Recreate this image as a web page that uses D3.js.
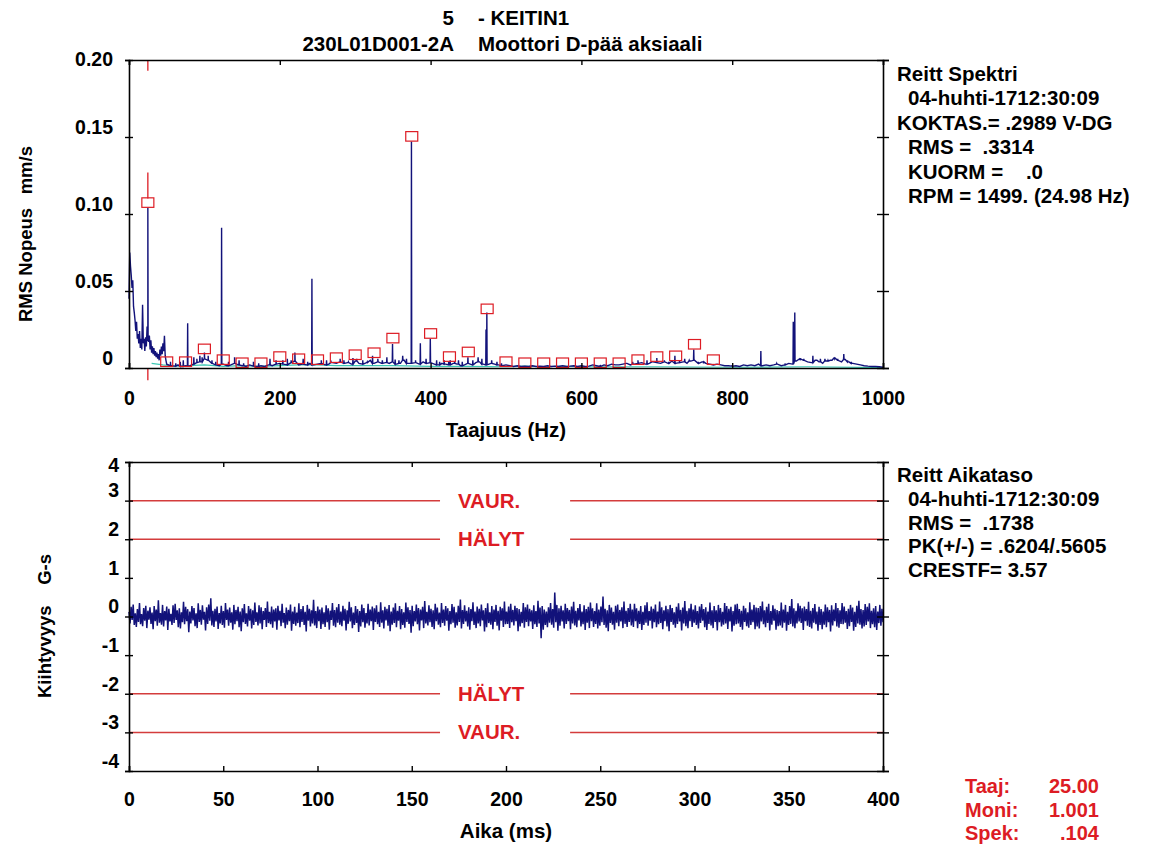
<!DOCTYPE html>
<html><head><meta charset="utf-8">
<script src="https://cdn.jsdelivr.net/npm/d3@7"></script>
<style>
html,body{margin:0;padding:0;background:#fff;}
text{font-family:"Liberation Sans",Arial,sans-serif;font-weight:bold;white-space:pre;}
</style></head>
<body>
<script>
// ---------------- DATA ----------------
const titleLine1 = ["5", "- KEITIN1"];
const titleLine2 = ["230L01D001-2A", "Moottori D-pää aksiaali"];

// spectrum, 0..49 Hz at 1 Hz (RMS mm/s)
const specLowHz = [0.045,0.075,0.066,0.060,0.052,0.057,0.040,0.036,0.031,0.024,
  0.030,0.019,0.022,0.016,0.024,0.013,0.019,0.012,0.041,0.016,
  0.019,0.011,0.020,0.014,0.027,0.018,0.017,0.021,0.012,0.018,
  0.010,0.014,0.009,0.013,0.008,0.011,0.007,0.010,0.006,0.009,
  0.005,0.012,0.008,0.014,0.009,0.016,0.011,0.021,0.008,0.005];
// spectrum floor, 50..1000 Hz at 5 Hz, in thousandths
const specFloor = [2.5,1.5,1.2,2.0,1.0,1.5,1.2,2.5,3.5,4.0,
  6.0,5.0,3.0,2.0,1.5,2.5,1.5,2.0,3.0,2.0,
  1.5,1.0,2.0,1.2,1.0,1.5,1.0,2.0,1.5,2.5,
  3.0,2.5,2.0,3.5,4.5,2.0,2.5,2.0,3.0,2.0,
  2.5,3.0,2.0,2.5,3.5,3.0,4.0,3.0,3.5,2.5,
  4.5,3.0,2.5,3.5,5.0,3.0,4.0,3.0,3.5,3.0,
  4.0,2.5,3.0,5.0,3.0,3.0,3.5,2.5,4.0,3.0,
  3.5,2.5,2.0,3.0,2.5,2.0,3.0,2.5,1.5,2.0,
  3.0,2.0,3.5,4.0,2.5,2.0,3.0,2.5,2.0,1.5,
  2.0,1.5,1.0,1.5,1.0,1.2,1.0,1.5,1.0,1.2,
  1.0,1.5,1.0,1.2,1.0,1.5,1.0,1.2,1.5,1.0,
  1.5,1.0,1.2,2.0,1.5,1.0,2.0,1.5,2.5,2.0,
  2.0,2.5,3.0,2.0,2.5,3.0,3.5,2.5,3.0,4.0,
  3.5,3.0,4.0,3.0,4.5,3.0,3.5,4.0,3.0,4.5,
  5.0,3.0,4.0,3.0,2.5,2.0,2.5,2.0,1.5,1.5,
  1.2,1.5,1.0,2.0,1.5,2.0,1.5,2.5,1.5,2.0,
  1.5,2.0,2.5,1.5,2.0,3.0,2.5,4.5,6.0,5.0,
  4.0,3.5,5.0,4.0,3.0,4.5,5.0,6.5,5.0,4.0,
  5.5,4.0,3.0,2.5,2.0,1.5,1.2,1.0,1.0,0.8,
  0.5];
// discrete spectral lines [Hz, amplitude]
const specPeaks = [[25,0.104],[77.8,0.029],[86,0.007],[94,0.008],[100,0.010],[105,0.008],
  [122.8,0.091],[140,0.007],[187,0.006],[204,0.005],[220,0.010],[231,0.006],[242.6,0.058],
  [262,0.005],[280,0.006],[297,0.0065],[302,0.006],[323,0.008],[342,0.007],[349.5,0.0156],
  [353,0.0055],[363,0.008],[374.6,0.147],[386.4,0.016],[399.6,0.019],[408,0.005],[412,0.004],
  [424,0.004],[426,0.005],[442,0.004],[449.5,0.007],[463,0.007],[473.5,0.025],[474.6,0.036],
  [488,0.004],[625,0.002],[675,0.005],[687,0.005],[700,0.0065],[724,0.008],[737,0.006],
  [749,0.012],[755,0.004],[800,0.002],[838,0.011],[859,0.003],[881,0.030],[883,0.036],
  [907,0.008],[923,0.006],[927,0.005],[940,0.006],[948,0.009],
  [55,0.004],[62,0.003],[68,0.004],[72,0.005],[90,0.006],[97,0.007],[110,0.005],[115,0.004],
  [132,0.004],[146,0.005],[152,0.003],[165,0.004],[172,0.003],[195,0.005],[210,0.006],[215,0.005],
  [237,0.004],[255,0.005],[268,0.004],[285,0.005],[291,0.004],[310,0.005],[316,0.004],[330,0.006],
  [336,0.005],[358,0.005],[368,0.006],[380,0.005],[394,0.006],[418,0.005],[432,0.004],[437,0.005],
  [456,0.005],[468,0.006],[481,0.005],[494,0.003],[660,0.003],[668,0.004],[694,0.004],[710,0.005],
  [716,0.004],[730,0.005],[743,0.005],[762,0.003],[870,0.003],[890,0.005],[895,0.006],[912,0.005],
  [917,0.006],[932,0.005],[936,0.006],[953,0.005],[958,0.004]];
// reference (cyan) spectrum
const specRef = [[30,0.003],[45,0.002],[60,0.0012],[80,0.0015],[100,0.002],[125,0.001],[150,0.0015],
  [175,0.001],[200,0.0015],[225,0.002],[250,0.002],[275,0.0015],[300,0.0015],[350,0.0015],[400,0.001],
  [450,0.001],[500,0.0008],[525,0.0012],[550,0.0008],[575,0.0012],[600,0.0008],[650,0.0008],[700,0.0008],
  [800,0.0005],[900,0.0008],[1000,0.0003]];
// harmonic markers (1x = 25 Hz) amplitudes for orders 1..31
const rpmHz = 25;
const markerAmps = [0.104,0.0007,0.0007,0.009,0.002,0,0,0.004,0.0026,0.002,0.0033,0.0052,0.0065,
  0.016,0.147,0.019,0.004,0.007,0.035,0.0007,0,0,0,0,0,0,0.002,0.004,0.0045,0.012,0.002];
const cursorHz = 25;
const cursorSegs = [[0.2,0.193],[0.127,0.110],[0,-0.008]];

const specXTicks = [0,200,400,600,800,1000];
const specYTicks = [0,0.05,0.10,0.15,0.20];
const specYLabels = ["0","0.05","0.10","0.15","0.20"];

// time waveform (G-s, hundredths), evenly sampled over 0..400 ms
const waveRows = [
 [12,-18,25,-9,31,-22,8,-27,19,-14,35,-20,6,-25,22,-11,28,-30,15,-8],
 [24,-19,10,-33,27,-12,18,-24,42,-16,9,-21,30,-26,14,-10,26,-35,20,-13],
 [7,-22,29,-17,33,-9,16,-28,21,-31,11,-15,38,-20,25,-12,19,-41,13,-18],
 [27,-10,22,-25,8,-30,34,-14,17,-21,29,-8,12,-36,24,-19,31,-11,47,-23],
 [15,-27,20,-13,26,-32,9,-18,28,-22,14,-29,35,-9,18,-24,23,-16,11,-34],
 [30,-20,17,-12,25,-28,13,-38,21,-15,32,-19,8,-26,27,-11,20,-31,16,-22],
 [36,-14,11,-23,29,-18,24,-33,14,-9,22,-27,39,-17,12,-20,26,-29,18,-13],
 [21,-34,28,-10,15,-25,33,-16,9,-30,23,-21,17,-12,31,-37,13,-19,25,-24],
 [10,-17,34,-28,19,-14,27,-22,12,-39,30,-11,20,-26,16,-18,43,-23,14,-30],
 [26,-12,18,-32,23,-20,11,-27,29,-15,21,-34,15,-9,35,-24,17,-28,24,-16],
 [32,-21,13,-25,28,-11,20,-36,16,-19,38,-13,24,-30,10,-22,27,-17,19,-40],
 [14,-26,31,-15,22,-29,9,-18,33,-23,18,-12,26,-35,21,-14,29,-20,12,-27],
 [37,-16,16,-31,25,-10,20,-24,30,-38,13,-21,23,-17,34,-28,15,-11,27,-33],
 [19,-22,11,-29,36,-14,24,-19,17,-42,28,-25,14,-13,31,-20,22,-36,18,-10],
 [25,-30,40,-18,12,-23,29,-15,20,-27,16,-33,33,-12,23,-21,10,-28,35,-17],
 [18,-24,27,-11,21,-37,14,-20,32,-16,25,-29,11,-23,28,-14,44,-31,17,-19],
 [29,-13,15,-26,24,-34,19,-12,37,-22,13,-30,26,-18,20,-25,31,-10,16,-39],
 [22,-28,34,-17,11,-21,27,-33,18,-14,30,-24,15,-36,25,-11,21,-27,39,-20],
 [13,-19,26,-30,33,-15,17,-23,28,-12,22,-38,19,-26,12,-17,35,-29,24,-14],
 [31,-25,20,-13,16,-32,29,-20,14,-27,41,-18,23,-56,27,-34,18,-22,13,-28],
 [24,-16,35,-21,19,-29,62,-15,30,-37,21,-24,28,-13,16,-31,33,-19,22,-12],
 [17,-33,26,-18,38,-23,15,-28,22,-10,32,-26,13,-20,29,-35,19,-16,25,-30],
 [36,-12,21,-27,14,-19,34,-31,18,-24,26,-15,52,-22,20,-29,16,-38,30,-17],
 [23,-21,12,-34,28,-16,31,-25,17,-13,24,-30,39,-19,15,-27,22,-14,33,-23],
 [18,-27,33,-12,21,-30,15,-19,27,-35,12,-22,29,-16,37,-24,14,-11,26,-31],
 [20,-15,31,-28,13,-20,39,-17,24,-33,16,-12,28,-26,19,-38,30,-14,22,-21],
 [11,-29,25,-19,34,-13,17,-36,23,-18,40,-25,15,-30,21,-12,33,-27,18,-16],
 [29,-22,14,-31,26,-17,32,-11,19,-28,24,-35,13,-19,36,-23,16,-30,27,-14],
 [16,-36,30,-15,22,-26,12,-21,35,-18,27,-32,20,-13,25,-39,14,-24,31,-20],
 [33,-18,19,-27,15,-34,28,-14,21,-25,11,-29,37,-22,18,-15,30,-33,23,-26],
 [22,-31,27,-13,39,-20,16,-28,25,-17,33,-36,14,-21,29,-11,20,-34,17,-25],
 [14,-23,36,-29,18,-16,30,-37,12,-22,27,-19,45,-26,21,-30,15,-18,34,-13],
 [28,-17,21,-35,26,-12,19,-24,38,-27,15,-31,22,-16,32,-20,13,-37,25,-22],
 [19,-33,13,-21,31,-28,24,-15,17,-39,29,-23,18,-12,35,-26,22,-29,16,-19],
 [35,-20,26,-16,14,-32,20,-25,30,-14,23,-37,12,-27,28,-18,41,-21,19,-31],
 [17,-26,32,-22,25,-13,34,-30,15,-20,21,-28,27,-35,13,-17,30,-24,20,-15]];
const waveDurationMs = 400;
const waveXTicks = [0,50,100,150,200,250,300,350,400];
const waveYTicks = [-4,-3,-2,-1,0,1,2,3,4];
const alarmLevels = [3,2,-2,-3];
const alarmLabels = ["VAUR.","HÄLYT","HÄLYT","VAUR."];

const specInfo = [["Reitt Spektri",0],["04-huhti-1712:30:09",1],["KOKTAS.= .2989 V-DG",0],
  ["RMS =  .3314",1],["KUORM =    .0",1],["RPM = 1499. (24.98 Hz)",1]];
const waveInfo = [["Reitt Aikataso",0],["04-huhti-1712:30:09",1],["RMS =  .1738",1],
  ["PK(+/-) = .6204/.5605",1],["CRESTF= 3.57",1]];
const cursorInfo = [["Taaj:","25.00"],["Moni:","1.001"],["Spek:",".104"]];

// ---------------- DRAW ----------------
const FS = 20.5, TFS = 19.5, YFS = 18.5, RED = "#dd1c24", NAVY = "#12127a", LRED = "#d43c3c";
const svg = d3.select("body").append("svg").attr("width",1149).attr("height",848);
svg.append("rect").attr("width",1149).attr("height",848).attr("fill","#fff");

// title
svg.append("text").attr("x",454).attr("y",25).attr("text-anchor","end").attr("font-size",FS).text(titleLine1[0]);
svg.append("text").attr("x",478).attr("y",25).attr("font-size",FS).text(titleLine1[1]);
svg.append("text").attr("x",454).attr("y",51).attr("text-anchor","end").attr("font-size",FS).text(titleLine2[0]);
svg.append("text").attr("x",478).attr("y",51).attr("font-size",FS).text(titleLine2[1]);

// scales
const xS = d3.scaleLinear().domain([0,1000]).range([129,883]);
const yS = d3.scaleLinear().domain([0,0.2]).range([368,60]);
const xT = d3.scaleLinear().domain([0,400]).range([129,883]);
const yT = d3.scaleLinear().domain([-4,4]).range([771,462]);

function styleAxis(g){
  g.selectAll("path.domain").attr("stroke","#000").attr("stroke-width",1.6);
  g.selectAll(".tick line").attr("stroke","#000").attr("stroke-width",1.4);
  g.selectAll(".tick text").attr("font-size",TFS).attr("fill","#000")
   .attr("font-family","'Liberation Sans',Arial,sans-serif").attr("font-weight","bold");
}
const plainFmt = d => String(d);

// ---- spectrum data assembly ----
const floorAt = f => {
  if (f < 50) return specLowHz[Math.max(0,Math.min(49,Math.round(f)))];
  return specFloor[Math.max(0,Math.min(specFloor.length-1,Math.round((f-50)/5)))]/1000;
};
let spec = [];
specLowHz.forEach((v,i)=>spec.push([i,v]));
specFloor.forEach((v,i)=>spec.push([50+i*5,v/1000]));
specPeaks.forEach(([f,a])=>{
  const b = floorAt(f);
  spec.push([f-0.35,b],[f,a],[f+0.35,b]);
});
spec.sort((a,b)=>a[0]-b[0]);

const specLine = d3.line().x(d=>xS(d[0])).y(d=>yS(d[1]));
svg.append("path").datum(specRef).attr("d",specLine).attr("fill","none")
  .attr("stroke","#3cc8b4").attr("stroke-width",1.2);
svg.append("path").datum(spec).attr("d",specLine).attr("fill","none")
  .attr("stroke",NAVY).attr("stroke-width",1.4).attr("stroke-linejoin","miter");

// cursor
svg.append("g").selectAll("line").data(cursorSegs).join("line")
  .attr("x1",xS(cursorHz)).attr("x2",xS(cursorHz))
  .attr("y1",d=>yS(d[0])).attr("y2",d=>yS(d[1]))
  .attr("stroke",RED).attr("stroke-width",1.3);

// harmonic markers
svg.append("g").selectAll("rect").data(markerAmps).join("rect")
  .attr("x",(d,i)=>xS(rpmHz*(i+1))-6).attr("y",d=>yS(d)-10)
  .attr("width",12).attr("height",9.5)
  .attr("fill","none").attr("stroke",RED).attr("stroke-width",1.2);

// spectrum axes
const sL = svg.append("g").attr("transform","translate(129,0)")
  .call(d3.axisLeft(yS).tickValues(specYTicks).tickFormat((d,i)=>specYLabels[i]).tickSizeOuter(0).tickSize(4));
sL.selectAll(".tick line").attr("x1",4).attr("x2",-4);
sL.selectAll(".tick text").attr("x",-16).attr("y",(d,i)=> i===specYTicks.length-1 ? -1 : -10);
styleAxis(sL);
const sR = svg.append("g").attr("transform","translate(883,0)")
  .call(d3.axisRight(yS).tickValues(specYTicks).tickFormat("").tickSizeOuter(0).tickSize(6));
sR.selectAll(".tick line").attr("x1",-6).attr("x2",6);
styleAxis(sR);
const sB = svg.append("g").attr("transform","translate(0,368)")
  .call(d3.axisBottom(xS).tickValues(specXTicks).tickFormat(plainFmt).tickSizeOuter(0).tickSize(-5));
sB.selectAll(".tick text").attr("y",37).attr("dy",0);
styleAxis(sB);
const sT = svg.append("g").attr("transform","translate(0,60)")
  .call(d3.axisTop(xS).tickValues(specXTicks).tickFormat("").tickSizeOuter(0).tickSize(-5));
styleAxis(sT);

svg.append("text").attr("x",506).attr("y",437).attr("text-anchor","middle").attr("font-size",FS).text("Taajuus (Hz)");
svg.append("text").attr("transform","translate(32,322) rotate(-90)").attr("font-size",YFS).text("RMS Nopeus");
svg.append("text").attr("transform","translate(32,146) rotate(-90)").attr("text-anchor","end").attr("font-size",YFS).text("mm/s");

// spectrum info panel
svg.append("g").selectAll("text").data(specInfo).join("text")
  .attr("x",d=>d[1]?908:897).attr("y",(d,i)=>81+i*24.4)
  .attr("font-size",FS).attr("fill","#000").text(d=>d[0]);

// ---- waveform ----
const wave = waveRows.flat().map(v=>v/100);
const dt = waveDurationMs/(wave.length-1);

// alarm lines
const gapStart = 165, gapEnd = 234, labelT = 174.5;
const alarmG = svg.append("g");
alarmLevels.forEach((lv,i)=>{
  alarmG.append("line").attr("x1",xT(0)).attr("x2",xT(gapStart)).attr("y1",yT(lv)).attr("y2",yT(lv))
    .attr("stroke",LRED).attr("stroke-width",1.5);
  alarmG.append("line").attr("x1",xT(gapEnd)).attr("x2",xT(400)).attr("y1",yT(lv)).attr("y2",yT(lv))
    .attr("stroke",LRED).attr("stroke-width",1.5);
  alarmG.append("text").attr("x",xT(labelT)).attr("y",yT(lv)+7).attr("font-size",FS)
    .attr("fill",RED).text(alarmLabels[i]);
});

svg.append("path").datum(wave)
  .attr("d",d3.line().x((d,i)=>xT(i*dt)).y(d=>yT(d)))
  .attr("fill","none").attr("stroke",NAVY).attr("stroke-width",1.5);

const wL = svg.append("g").attr("transform","translate(129,0)")
  .call(d3.axisLeft(yT).tickValues(waveYTicks).tickFormat(plainFmt).tickSizeOuter(0).tickSize(4));
wL.selectAll(".tick line").attr("x1",4).attr("x2",-4);
wL.selectAll(".tick text").attr("x",-10).attr("y",(d,i)=> i===waveYTicks.length-1 ? 3 : -10);
styleAxis(wL);
const wR = svg.append("g").attr("transform","translate(883,0)")
  .call(d3.axisRight(yT).tickValues(waveYTicks).tickFormat("").tickSizeOuter(0).tickSize(6));
wR.selectAll(".tick line").attr("x1",-6).attr("x2",6);
styleAxis(wR);
const wB = svg.append("g").attr("transform","translate(0,771)")
  .call(d3.axisBottom(xT).tickValues(waveXTicks).tickFormat(plainFmt).tickSizeOuter(0).tickSize(-5));
wB.selectAll(".tick text").attr("y",35).attr("dy",0);
styleAxis(wB);
const wT = svg.append("g").attr("transform","translate(0,462)")
  .call(d3.axisTop(xT).tickValues(waveXTicks).tickFormat("").tickSizeOuter(0).tickSize(-5));
styleAxis(wT);

svg.append("text").attr("x",506).attr("y",838).attr("text-anchor","middle").attr("font-size",FS).text("Aika (ms)");
svg.append("text").attr("transform","translate(51,698) rotate(-90)").attr("font-size",YFS).text("Kiihtyvyys");
svg.append("text").attr("transform","translate(51,554) rotate(-90)").attr("text-anchor","end").attr("font-size",YFS).text("G-s");

svg.append("g").selectAll("text").data(waveInfo).join("text")
  .attr("x",d=>d[1]?908:897).attr("y",(d,i)=>482+i*23.8)
  .attr("font-size",FS).attr("fill","#000").text(d=>d[0]);

// cursor readout
const cg = svg.append("g");
cursorInfo.forEach((r,i)=>{
  cg.append("text").attr("x",965).attr("y",793+i*23.5).attr("font-size",FS-0.5).attr("fill",RED).text(r[0]);
  cg.append("text").attr("x",1099).attr("y",793+i*23.5).attr("text-anchor","end").attr("font-size",FS-0.5).attr("fill",RED).text(r[1]);
});
</script>
</body></html>
